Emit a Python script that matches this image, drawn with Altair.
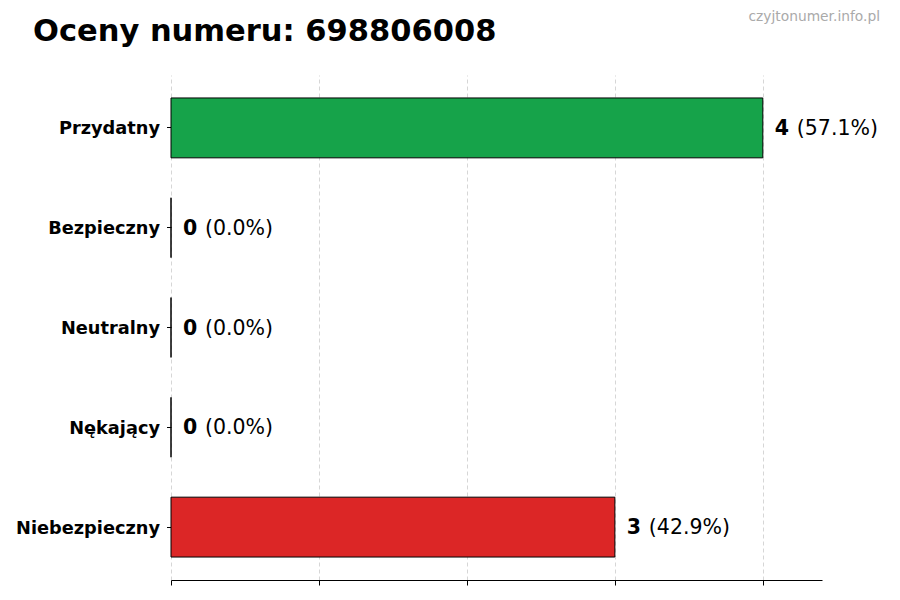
import altair as alt
import pandas as pd

categories = ["Przydatny", "Bezpieczny", "Neutralny", "Nękający", "Niebezpieczny"]
counts = [4, 0, 0, 0, 3]
percent_labels = ["(57.1%)", "(0.0%)", "(0.0%)", "(0.0%)", "(42.9%)"]
bar_colors = ["#16a34a", "#2563eb", "#6b7280", "#f59e0b", "#dc2626"]
x_ticks = [0, 1, 2, 3, 4]
title_text = "Oceny numeru: 698806008"
watermark = "czyjtonumer.info.pl"

df = pd.DataFrame({
    "cat": categories,
    "count": counts,
    "count_label": [str(c) for c in counts],
    "pct": percent_labels,
    "color": bar_colors,
})

FONT = "DejaVu Sans"

y_enc = alt.Y(
    "cat:N",
    sort=categories,
    scale=alt.Scale(paddingInner=0.4, paddingOuter=0.23),
    axis=alt.Axis(
        title=None, domain=False, ticks=True, tickSize=4.5, tickColor="black",
        tickWidth=1, labelPadding=7, labelFont=FONT, labelFontSize=17.75,
        labelFontWeight="bold", labelColor="black", grid=False, labelOffset=1.5,
    ),
)
x_enc = alt.X(
    "count:Q",
    scale=alt.Scale(domain=[0, 4.4], nice=False, zero=True),
    axis=alt.Axis(
        title=None, values=x_ticks, labels=False, domain=True, domainColor="black",
        domainWidth=1.2, ticks=True, tickSize=5, tickColor="black", tickWidth=1,
        grid=True, gridColor="#cccccc", gridDash=[4, 3], gridWidth=0.8,
    ),
)

base = alt.Chart(df)

bars = base.mark_bar(stroke="black", strokeWidth=1, opacity=1).encode(
    x=x_enc,
    y=y_enc,
    color=alt.Color("color:N", scale=None, legend=None),
)

count_text = base.mark_text(
    align="left", baseline="middle", dx=12, dy=1, font=FONT, fontSize=20.5,
    fontWeight="bold", color="black",
).encode(x="count:Q", y=alt.Y("cat:N", sort=categories), text="count_label:N")

pct_text = base.mark_text(
    align="left", baseline="middle", dx=34, dy=1, font=FONT, fontSize=20.5,
    color="black",
).encode(x="count:Q", y=alt.Y("cat:N", sort=categories), text="pct:N")

title = alt.Chart(pd.DataFrame({"t": [title_text]})).mark_text(
    align="left", baseline="alphabetic", font=FONT, fontSize=30.5,
    fontWeight="bold", color="black",
).encode(x=alt.value(-138), y=alt.value(-34), text="t:N")

wm = alt.Chart(pd.DataFrame({"t": [watermark]})).mark_text(
    align="right", baseline="middle", font=FONT, fontSize=13.8, color="#aaaaaa",
).encode(x=alt.value(709), y=alt.value(-58), text="t:N")

chart = alt.layer(bars, count_text, pct_text, title, wm).properties(
    width=651,
    height=505,
    autosize=alt.AutoSizeParams(type="none"),
    padding={"left": 163, "top": 67, "right": 60, "bottom": 10},
).configure_view(stroke=None)

chart.save("out.html", embed_options={"renderer": "svg", "actions": False})
